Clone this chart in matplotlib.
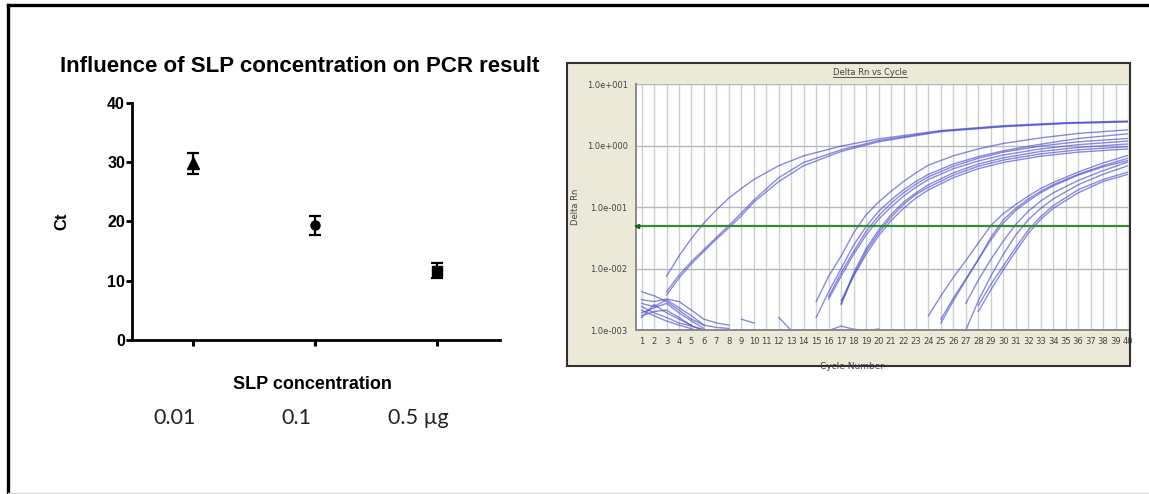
import numpy as np
import matplotlib
matplotlib.use("Agg")
import matplotlib.pyplot as plt
from matplotlib.patches import Rectangle
from matplotlib.lines import Line2D
import matplotlib.transforms as mtransforms

# ---- left panel data (Ct vs SLP amount) ----
slp_labels = ["0.01", "0.1", "0.5 \u00b5g"]
ct_mean = [29.8, 19.4, 11.7]
ct_err = [1.7, 1.6, 1.3]
ct_markers = ["^", "o", "s"]
ct_ticks = [0, 10, 20, 30, 40]

# ---- right panel data (Delta Rn vs cycle) ----
threshold = 0.05
cycle_ticks = list(range(1, 41))
rn_ticks = [1e-3, 1e-2, 1e-1, 1e0, 1e1]
rn_tick_labels = ["1.0e-003", "1.0e-002", "1.0e-001", "1.0e+000", "1.0e+001"]

early_cycles = [3, 4, 5, 6, 7, 8, 9, 10, 12, 14, 17, 20, 25, 30, 35, 40]
early_curves = [
    [0.0075, 0.016, 0.031, 0.055, 0.09, 0.14, 0.20, 0.28, 0.47, 0.68, 0.98, 1.28, 1.75, 2.1, 2.35, 2.5],
    [0.0042, 0.0078, 0.013, 0.0205, 0.032, 0.050, 0.080, 0.13, 0.30, 0.53, 0.85, 1.2, 1.72, 2.05, 2.3, 2.45],
    [0.0037, 0.0070, 0.012, 0.019, 0.030, 0.046, 0.072, 0.12, 0.26, 0.47, 0.80, 1.15, 1.68, 2.02, 2.28, 2.42],
]

mid_cycles = [15, 16, 17, 18, 19, 20, 21, 22, 23, 24, 26, 28, 30, 33, 36, 40]
mid_curves = [
    [0.0029, 0.0075, 0.016, 0.038, 0.075, 0.12, 0.18, 0.26, 0.36, 0.48, 0.68, 0.88, 1.08, 1.33, 1.57, 1.8],
    [0.0016, 0.0042, 0.010, 0.024, 0.048, 0.085, 0.13, 0.19, 0.26, 0.34, 0.50, 0.66, 0.82, 1.05, 1.3, 1.55],
    [None, 0.0035, 0.0085, 0.019, 0.040, 0.072, 0.115, 0.17, 0.235, 0.31, 0.46, 0.62, 0.78, 0.98, 1.15, 1.3],
    [None, 0.0032, 0.0075, 0.017, 0.035, 0.063, 0.10, 0.15, 0.21, 0.28, 0.42, 0.56, 0.70, 0.88, 1.03, 1.18],
    [None, None, 0.0027, 0.0085, 0.021, 0.042, 0.075, 0.12, 0.17, 0.23, 0.36, 0.50, 0.63, 0.80, 0.93, 1.06],
    [None, None, 0.0026, 0.0078, 0.019, 0.038, 0.068, 0.11, 0.16, 0.21, 0.33, 0.46, 0.58, 0.73, 0.85, 0.96],
    [None, None, 0.0030, 0.0075, 0.017, 0.034, 0.060, 0.095, 0.14, 0.19, 0.30, 0.42, 0.53, 0.67, 0.78, 0.88],
]

late_cycles = [24, 25, 26, 27, 28, 29, 30, 31, 32, 33, 34, 36, 38, 40]
late_curves = [
    [0.0017, 0.0036, 0.0072, 0.0135, 0.026, 0.050, 0.078, 0.11, 0.15, 0.20, 0.25, 0.37, 0.52, 0.69],
    [None, 0.0013, 0.0030, 0.0065, 0.014, 0.032, 0.062, 0.095, 0.135, 0.18, 0.23, 0.34, 0.47, 0.62],
    [None, 0.0015, 0.0033, 0.0068, 0.014, 0.029, 0.055, 0.088, 0.125, 0.17, 0.22, 0.33, 0.45, 0.57],
    [None, None, None, 0.0027, 0.0065, 0.014, 0.028, 0.052, 0.085, 0.125, 0.17, 0.27, 0.39, 0.54],
    [None, None, None, 0.0010, 0.0030, 0.0075, 0.017, 0.035, 0.062, 0.095, 0.135, 0.23, 0.34, 0.47],
    [None, None, None, None, 0.0025, 0.0055, 0.011, 0.022, 0.042, 0.070, 0.105, 0.19, 0.28, 0.37],
    [None, None, None, None, 0.0020, 0.0045, 0.0095, 0.019, 0.037, 0.063, 0.095, 0.17, 0.26, 0.34],
]

noise_cycles = [1, 2, 3, 4, 5, 6, 7, 8]
noise_curves = [
    [0.0042, 0.0036, 0.0029, 0.0021, 0.0015, 0.0012, 0.0011, 0.00106],
    [0.0031, 0.0029, 0.0032, 0.0029, 0.0021, 0.0015, 0.0013, 0.0012],
    [0.0027, 0.0024, 0.0031, 0.0023, 0.0017, 0.0012, None, None],
    [0.0019, 0.0023, 0.0027, 0.0019, 0.0014, 0.00106, None, None],
    [0.0017, 0.0020, 0.0021, 0.0016, 0.00116, 0.0010, None, None],
    [0.0024, 0.0019, 0.0016, 0.0013, 0.00116, 0.0010, None, None],
    [0.0016, 0.0026, 0.0019, 0.0015, 0.0012, None, None, None],
    [0.0021, 0.0017, 0.0014, 0.0012, 0.00105, 0.0009, None, None],
]
fragment_cycles = [[9, 10], [12, 13], [16, 17, 18, 19, 20]]
fragment_values = [[0.0015, 0.0013], [0.0016, 0.00098], [0.00098, 0.00116, 0.00103, 0.00098, 0.00104]]

W, H = 1149, 494
fig = plt.figure(figsize=(W / 100, H / 100), dpi=100)
fig.patch.set_facecolor("white")

# outer frame of the slide
fig.add_artist(Line2D([7.5 / W, 1], [1 - 5 / H, 1 - 5 / H], color="black", lw=2.4,
                      transform=fig.transFigure, solid_capstyle="projecting"))
fig.add_artist(Line2D([7.5 / W, 7.5 / W], [0, 1 - 5 / H], color="black", lw=2.4,
                      transform=fig.transFigure))
fig.add_artist(Line2D([7.5 / W, 1], [1 - 493 / H, 1 - 493 / H], color="#d8d8d8", lw=1,
                      transform=fig.transFigure))

# ---------------- left panel ----------------
ax = fig.add_axes([132 / W, 1 - 340 / H, 368 / W, 237 / H])
x = np.arange(len(slp_labels))
for xi, m, e, mk in zip(x, ct_mean, ct_err, ct_markers):
    ax.errorbar(xi, m, yerr=e, fmt=mk, color="black", ms=8 if mk == "^" else 6.5,
                elinewidth=1.6, capsize=4.3, capthick=1.6)
ax.set_xlim(-0.5, 2.52)
ax.set_ylim(0, 40)
ax.set_yticks(ct_ticks)
ax.set_xticks(x)
ax.set_xticklabels([])
for s in ["top", "right"]:
    ax.spines[s].set_visible(False)
for s in ["left", "bottom"]:
    ax.spines[s].set_linewidth(2.0)
ax.tick_params(axis="y", length=4, width=2.0, pad=1, labelsize=11.5)
ax.tick_params(axis="x", length=4.5, width=2.2)
for lab in ax.get_yticklabels():
    lab.set_fontfamily("Liberation Sans")
    lab.set_fontweight("bold")
ax.set_ylabel("Ct", fontsize=12, fontweight="bold", family="Liberation Sans")
ax.yaxis.set_label_coords(-0.17, 0.5)
ax.set_xlabel("SLP concentration", fontsize=13, fontweight="bold", family="Liberation Sans")
ax.xaxis.set_label_coords(0.49, -0.15)
trans = mtransforms.blended_transform_factory(ax.transData, ax.transAxes)
for xi, lab in zip(x, slp_labels):
    ax.text(xi - 0.15, -0.33, lab, transform=trans, ha="center", va="center",
            fontsize=15.5, family="Lato", color="#222222")
fig.text(300 / W, 1 - 67 / H, "Influence of SLP concentration on PCR result",
         ha="center", va="center", fontsize=16, fontweight="bold", family="Liberation Sans")

# ---------------- right panel (amplification plot) ----------------
fig.add_artist(Rectangle((567 / W, 1 - 366 / H), (1130 - 567) / W, (366 - 63) / H,
                         transform=fig.transFigure, facecolor="#ece9d8", edgecolor="none", zorder=0))
ax2 = fig.add_axes([636 / W, 1 - 330 / H, (1128 - 636) / W, (330 - 84) / H])
ax2.set_facecolor("white")
ax2.set_yscale("log")
ax2.set_xlim(0.55, 40.0)
ax2.set_ylim(1e-3, 1e1)
ax2.set_xticks(cycle_ticks)
ax2.set_xticklabels([str(c) for c in cycle_ticks])
ax2.set_yticks(rn_ticks)
ax2.set_yticklabels(rn_tick_labels)
ax2.yaxis.set_minor_locator(plt.NullLocator())
ax2.tick_params(axis="both", length=0, labelsize=6, colors="#444444")
ax2.tick_params(axis="x", pad=5)
ax2.tick_params(axis="y", pad=6)
ax2.grid(axis="x", color="#cfcfcf", lw=1.0)
ax2.grid(axis="y", color="#b8b8b8", lw=1.0)
for s in ["top", "right"]:
    ax2.spines[s].set_visible(False)
for s in ["left", "bottom"]:
    ax2.spines[s].set_color("#8a8a8a")
    ax2.spines[s].set_linewidth(1.4)

line_kw = dict(color="#4a4ad0", lw=1.0, alpha=0.65)
for vals in noise_curves:
    ax2.plot(noise_cycles, np.array(vals, dtype=float), **line_kw)
for cyc, vals in zip(fragment_cycles, fragment_values):
    ax2.plot(cyc, vals, **line_kw)
for vals in early_curves:
    ax2.plot(early_cycles, vals, **line_kw)
for vals in mid_curves:
    ax2.plot(mid_cycles, np.array(vals, dtype=float), **line_kw)
for vals in late_curves:
    ax2.plot(late_cycles, np.array(vals, dtype=float), **line_kw)

# threshold line runs on to the frame edge
ax2.plot([0.55, 40.1], [threshold, threshold], color="#2f8f2f", lw=1.6, zorder=5, clip_on=False)
ax2.plot([0.6], [threshold], marker="<", ms=3, color="#1f5f1f", clip_on=False, zorder=6)

ax2.set_ylabel("Delta Rn", fontsize=6, color="#444444")
ax2.yaxis.set_label_coords((580 - 636) / (1128 - 636), 0.5)
ax2.set_xlabel("Cycle Number", fontsize=6.5, color="#444444")
ax2.xaxis.set_label_coords(0.44, (330 - 362) / (330 - 84))
title = fig.text(870 / W, 1 - 72 / H, "Delta Rn vs Cycle", ha="center", va="center",
                 fontsize=6, color="#444444")

# border of the embedded screenshot, drawn on top
fig.add_artist(Rectangle((567 / W, 1 - 366 / H), (1130 - 567) / W, (366 - 63) / H,
                         transform=fig.transFigure, facecolor="none", edgecolor="#303030",
                         lw=1.5, zorder=10))

# underline the small title
fig.canvas.draw()
bb = title.get_window_extent().transformed(fig.transFigure.inverted())
fig.add_artist(Line2D([bb.x0, bb.x1], [bb.y0, bb.y0], color="#444444", lw=0.6,
                      transform=fig.transFigure))

fig.savefig("out.png", dpi=100)
